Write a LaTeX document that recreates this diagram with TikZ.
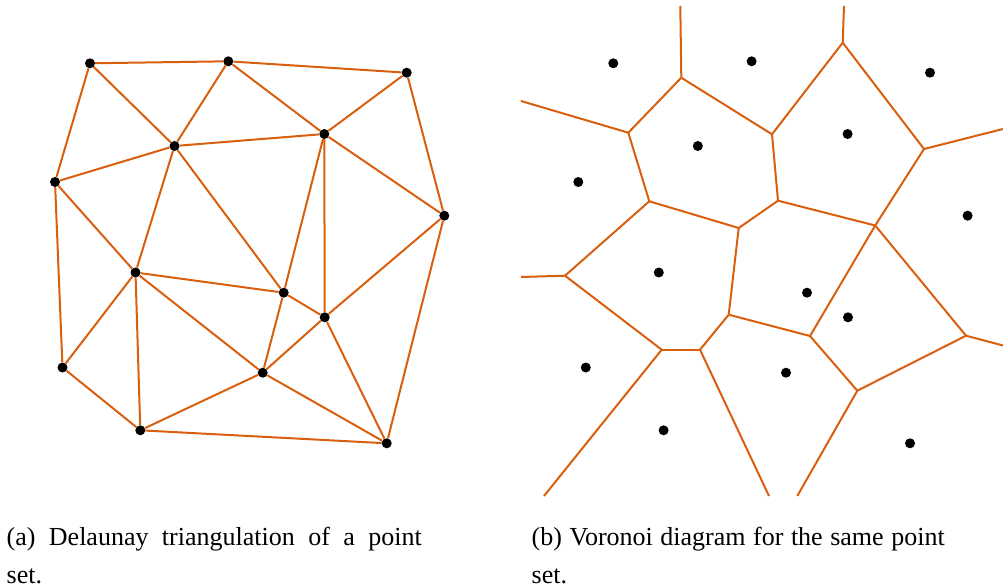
\documentclass[tikz,border=0pt]{standalone}
\usepackage{fontspec}
\setmainfont{Liberation Serif}
\usepackage{xcolor}
\usepackage{tikz}
\definecolor{edgeorange}{RGB}{217,95,14}

\begin{document}
\begin{tikzpicture}[
  x=1pt, y=-1pt,
  site/.style={circle, fill=black, inner sep=0pt, minimum size=10pt},
  tri/.style={edgeorange, line width=2pt},
  cell/.style={edgeorange, line width=2pt},
  caption/.style={anchor=base west, inner sep=0pt, align=justify,
    font=\fontsize{26}{37.3}\selectfont}
]
\useasboundingbox (0,0) rectangle (1003,588);

% Point set - left panel
\foreach \n/\x/\y in {1/90/63.3, 2/228.3/61.3, 3/406.7/72.7, 4/174.5/146,
    5/324.3/134, 6/55/182, 7/444.3/215.7, 8/135.5/272.5, 9/283.7/292.7,
    10/324.7/317.3, 11/62.5/367.5, 12/262.7/372.7, 13/140.3/430.3,
    14/386.7/443.3} {
  \node[site] (a\n) at (\x,\y) {};
}

% Delaunay edges
\foreach \i/\j in {1/2, 2/3, 1/6, 1/4, 2/4, 2/5, 3/5, 3/7, 4/5, 4/6, 4/8,
    4/9, 5/9, 5/10, 5/7, 7/10, 7/14, 6/8, 6/11, 8/11, 8/13, 8/9, 8/12,
    9/12, 9/10, 10/12, 10/14, 11/13, 12/13, 12/14, 13/14} {
  \draw[tri] (a\i) -- (a\j);
}

% Same point set - right panel
\foreach \n/\x/\y in {1/90/63.3, 2/228.3/61.3, 3/406.7/72.7, 4/174.5/146,
    5/324.3/134, 6/55/182, 7/444.3/215.7, 8/135.5/272.5, 9/283.7/292.7,
    10/324.7/317.3, 11/62.5/367.5, 12/262.7/372.7, 13/140.3/430.3,
    14/386.7/443.3} {
  \node[site] (b\n) at ({\x+523.3},\y) {};
}

% Voronoi vertices
\foreach \v/\x/\y in {A/681.3/77.7, B/842.7/42.7, C/628.3/132.7, D/772/134.3,
    E/924/149, F/649.3/201.3, G/738.7/228, H/778/200.7, I/875.2/225.5,
    J/565/275.7, K/661.7/349.7, L/700/349.7, M/728.7/314.7, N/810/336,
    O/966/335.7, P/857.3/390.7} {
  \coordinate (v\v) at (\x,\y);
}

% Open ends at the frame
\coordinate (tA) at (680.3,6);
\coordinate (tB) at (844,6);
\coordinate (tC) at (521,101);
\coordinate (tE) at (1003,129);
\coordinate (tJ) at (521,277);
\coordinate (tK) at (544,496);
\coordinate (tL) at (769,496);
\coordinate (tO) at (1003,345.5);
\coordinate (tP) at (797.3,496);

% Voronoi edges
\foreach \i/\j in {A/C, A/D, B/D, B/E, C/F, D/H, F/G, G/H, H/I, E/I, F/J,
    G/M, J/K, K/L, L/M, M/N, N/I, N/P, P/O, O/I} {
  \draw[cell] (v\i) -- (v\j);
}
\foreach \i in {A, B, C, E, J, K, L, O, P} {
  \draw[cell] (v\i) -- (t\i);
}

% Captions
\node[caption, text width=415pt] (capa) at (6.5,545.7)
  {(a)\ Delaunay triangulation of a point\linebreak set.};
\node[caption, text width=413pt] (capb) at (531.5,545.7)
  {(b)\ Voronoi diagram for the same point\linebreak set.};

\end{tikzpicture}
\end{document}
